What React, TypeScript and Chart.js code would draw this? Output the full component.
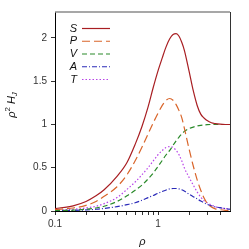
import React, { useEffect, useRef } from "react";
import { Chart, registerables } from "chart.js";

Chart.register(...registerables);

const rho = [0.1, 0.15, 0.2, 0.25, 0.3, 0.4, 0.5, 0.6, 0.7, 0.8, 0.9, 1.0, 1.1, 1.2, 1.3, 1.4, 1.5, 1.6, 1.7, 1.8, 2.0, 2.2, 2.4, 2.6, 2.8, 3.0, 3.3, 3.6, 4.0, 4.5, 5.0];
const seriesS = [0.028, 0.06, 0.11, 0.175, 0.245, 0.4, 0.56, 0.77, 0.98, 1.2, 1.43, 1.62, 1.77, 1.9, 1.99, 2.04, 2.05, 2.02, 1.95, 1.86, 1.62, 1.39, 1.22, 1.12, 1.075, 1.045, 1.02, 1.01, 1.003, 1.0, 1.0];
const seriesP = [0.018, 0.035, 0.065, 0.11, 0.17, 0.28, 0.42, 0.58, 0.74, 0.89, 1.02, 1.13, 1.22, 1.28, 1.3, 1.28, 1.23, 1.16, 1.08, 0.96, 0.72, 0.52, 0.36, 0.24, 0.15, 0.09, 0.045, 0.025, 0.015, 0.008, 0.005];
const seriesV = [0.004, 0.01, 0.02, 0.035, 0.055, 0.11, 0.175, 0.24, 0.3, 0.37, 0.44, 0.515, 0.585, 0.65, 0.7, 0.76, 0.81, 0.855, 0.89, 0.92, 0.953, 0.97, 0.982, 0.99, 0.995, 0.998, 1.0, 1.0, 1.0, 1.0, 1.0];
const seriesA = [0.003, 0.007, 0.012, 0.02, 0.03, 0.05, 0.073, 0.095, 0.125, 0.155, 0.18, 0.205, 0.225, 0.243, 0.255, 0.26, 0.26, 0.255, 0.245, 0.23, 0.195, 0.165, 0.14, 0.115, 0.095, 0.078, 0.06, 0.048, 0.038, 0.028, 0.02];
const seriesT = [0.01, 0.02, 0.035, 0.055, 0.085, 0.155, 0.25, 0.335, 0.42, 0.5, 0.58, 0.65, 0.7, 0.735, 0.745, 0.735, 0.7, 0.65, 0.58, 0.5, 0.39, 0.3, 0.22, 0.16, 0.12, 0.095, 0.07, 0.05, 0.037, 0.028, 0.022];

const seriesNames = ["S", "P", "V", "A", "T"];
const seriesColors = ["#a81e22", "#d9652a", "#2a8a2a", "#2a2ab8", "#b844e8"];
const seriesDashes = [[], [8, 4], [5, 3], [5, 2, 1, 2], [1.5, 2]];

const xTickValues = [0.1, 0.2, 0.3, 0.4, 0.5, 0.6, 0.7, 0.8, 0.9, 1, 2, 3, 4];
const xTickLabels = [0.1, 1];
const yTickValues = [0, 0.5, 1, 1.5, 2];

const FONT = "'Liberation Sans', Arial, sans-serif";

const decorPlugin = {
  id: "decor",
  afterDraw(chart: any) {
    const { ctx, chartArea } = chart;
    const { left, right, top, bottom } = chartArea;
    ctx.save();
    ctx.setLineDash([]);
    ctx.strokeStyle = "#8a8a8a";
    ctx.lineWidth = 1.5;
    ctx.beginPath();
    ctx.moveTo(left, top);
    ctx.lineTo(right, top);
    ctx.stroke();
    ctx.strokeStyle = "#333";
    ctx.lineWidth = 1;
    ctx.beginPath();
    ctx.moveTo(right + 0.5, top);
    ctx.lineTo(right + 0.5, bottom);
    ctx.stroke();

    seriesNames.forEach((name, i) => {
      const y = top + 16.5 + i * 12.75;
      ctx.font = `italic 11px ${FONT}`;
      ctx.fillStyle = "#111";
      ctx.textAlign = "right";
      ctx.textBaseline = "middle";
      ctx.fillText(name, left + 22, y);
      ctx.strokeStyle = seriesColors[i];
      ctx.lineWidth = 1.2;
      ctx.setLineDash(seriesDashes[i]);
      ctx.beginPath();
      ctx.moveTo(left + 27, y);
      ctx.lineTo(left + 55, y);
      ctx.stroke();
    });
    ctx.setLineDash([]);

    ctx.font = `italic 11px ${FONT}`;
    ctx.fillStyle = "#111";
    ctx.textAlign = "center";
    ctx.textBaseline = "middle";
    ctx.fillText("ρ", (left + right) / 2, 242);

    ctx.translate(12, 105);
    ctx.rotate(-Math.PI / 2);
    ctx.textAlign = "left";
    ctx.textBaseline = "middle";
    const parts: [string, string, number][] = [
      ["ρ", `italic 11px ${FONT}`, 0],
      ["2", `8px ${FONT}`, -4],
      [" H", `italic 11px ${FONT}`, 0],
      ["J", `italic 8px ${FONT}`, 3],
    ];
    let total = 0;
    parts.forEach(([t, f]) => {
      ctx.font = f;
      total += ctx.measureText(t).width;
    });
    let x = -total / 2;
    parts.forEach(([t, f, dy]) => {
      ctx.font = f;
      ctx.fillText(t, x, dy);
      x += ctx.measureText(t).width;
    });
    ctx.restore();
  },
};

export default function App() {
  const ref = useRef<HTMLCanvasElement | null>(null);
  useEffect(() => {
    if (!ref.current) return;
    const all = [seriesS, seriesP, seriesV, seriesA, seriesT];
    const chart = new Chart(ref.current, {
      type: "line",
      data: {
        datasets: all.map((vals, i) => ({
          label: seriesNames[i],
          data: rho.map((r, j) => ({ x: r, y: vals[j] })),
          borderColor: seriesColors[i],
          borderWidth: 1.2,
          borderDash: seriesDashes[i],
          pointRadius: 0,
          cubicInterpolationMode: "monotone" as const,
          fill: false,
        })),
      },
      options: {
        animation: false,
        responsive: false,
        maintainAspectRatio: false,
        layout: { padding: { left: 0, top: 12, right: 19, bottom: 0 } },
        plugins: { legend: { display: false }, tooltip: { enabled: false } },
        scales: {
          x: {
            type: "logarithmic",
            min: 0.1,
            max: 5,
            afterBuildTicks: (scale: any) => {
              scale.ticks = xTickValues.map((v) => ({ value: v }));
            },
            afterFit: (scale: any) => {
              scale.height = 38;
            },
            border: { color: "#000", width: 1 },
            grid: { drawOnChartArea: false, tickLength: 4, color: "#333" },
            ticks: {
              autoSkip: false,
              maxRotation: 0,
              padding: 3,
              color: "#333",
              font: { family: FONT, size: 10 },
              callback: (v: any) => (xTickLabels.includes(Number(v)) ? String(v) : ""),
            },
          },
          y: {
            type: "linear",
            min: 0,
            max: 2.3,
            afterBuildTicks: (scale: any) => {
              scale.ticks = yTickValues.map((v) => ({ value: v }));
            },
            afterFit: (scale: any) => {
              scale.width = 55;
            },
            border: { color: "#000", width: 1 },
            grid: { drawOnChartArea: false, tickLength: 4, color: "#333" },
            ticks: {
              padding: 4,
              color: "#333",
              font: { family: FONT, size: 10 },
              callback: (v: any) => String(v),
            },
          },
        },
      },
      plugins: [decorPlugin],
    });
    return () => chart.destroy();
  }, []);
  return (
    <div style={{ position: "fixed", left: 0, top: 0, width: 249, height: 249, background: "#fff" }}>
      <canvas ref={ref} width={249} height={249} style={{ display: "block" }} />
    </div>
  );
}
